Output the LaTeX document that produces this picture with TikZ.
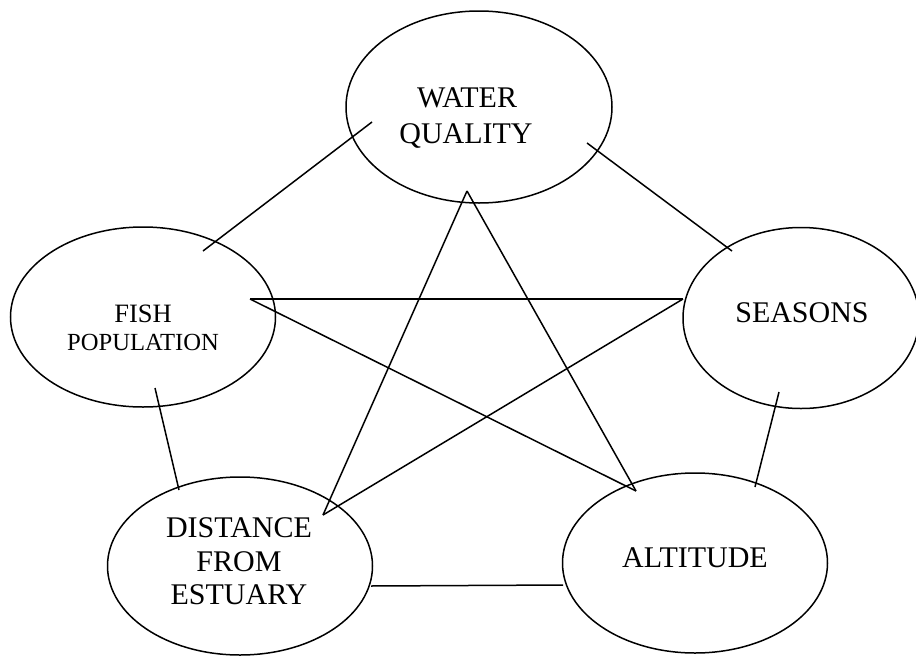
\documentclass[tikz,border=0pt]{standalone}
\usepackage{fontspec}
\setmainfont{Liberation Serif}
\usetikzlibrary{shapes.geometric}
\begin{document}
\begin{tikzpicture}[x=1pt,y=-1pt,
  oval/.style={draw,ellipse,line width=1.5pt,inner sep=0pt},
  lbl/.style={anchor=base,inner sep=0pt,font=\fontsize{30}{36}\selectfont},
  lblsmall/.style={anchor=base,inner sep=0pt,font=\fontsize{26.5}{32}\selectfont},
  lbltiny/.style={anchor=base,inner sep=0pt,font=\fontsize{24.6}{30}\selectfont},
  link/.style={line width=1.5pt}]
\useasboundingbox (0,0) rectangle (916,656);
% ellipses
\node[oval,minimum width=266pt,minimum height=192pt] (wq) at (479,107) {};
\node[oval,minimum width=265pt,minimum height=180pt] (fish) at (143,317) {};
\node[oval,minimum width=236pt,minimum height=181pt] (seas) at (801,318) {};
\node[oval,minimum width=265pt,minimum height=178pt] (dist) at (240,566) {};
\node[oval,minimum width=265pt,minimum height=180pt] (alt) at (695,563) {};
% labels
\node[lbl] (wq1) at (467,107) {WATER};
\node[lbl] (wq2) at (466,143) {QUALITY};
\node[lblsmall] (f1) at (143,322) {FISH};
\node[lbltiny] (f2) at (143,350) {POPULATION};
\node[lbl] (s1) at (802,322) {SEASONS};
\node[lbl] (d1) at (239,537) {DISTANCE};
\node[lbl] (d2) at (239,571) {FROM};
\node[lbl] (d3) at (239,604) {ESTUARY};
\node[lbl] (a1) at (695,567) {ALTITUDE};
% connector end points
\coordinate (c1) at (372,122);
\coordinate (c2) at (203,251);
\coordinate (c3) at (587,143);
\coordinate (c4) at (732,251);
\coordinate (pf) at (250,299);
\coordinate (ps) at (683,299);
\coordinate (pa) at (636,491);
\coordinate (pd) at (323,515);
\coordinate (pw) at (467,191);
\coordinate (c5) at (155,388);
\coordinate (c6) at (179,490);
\coordinate (c7) at (779,392);
\coordinate (c8) at (755,487);
\coordinate (c9) at (371,586);
\coordinate (c10) at (563,585);
% connectors
\draw[link] (c1) -- (c2);
\draw[link] (c3) -- (c4);
\draw[link] (pf) -- (ps);
\draw[link] (pf) -- (pa);
\draw[link] (ps) -- (pd);
\draw[link] (pw) -- (pd);
\draw[link] (pw) -- (pa);
\draw[link] (c5) -- (c6);
\draw[link] (c7) -- (c8);
\draw[link] (c9) -- (c10);
\end{tikzpicture}
\end{document}
